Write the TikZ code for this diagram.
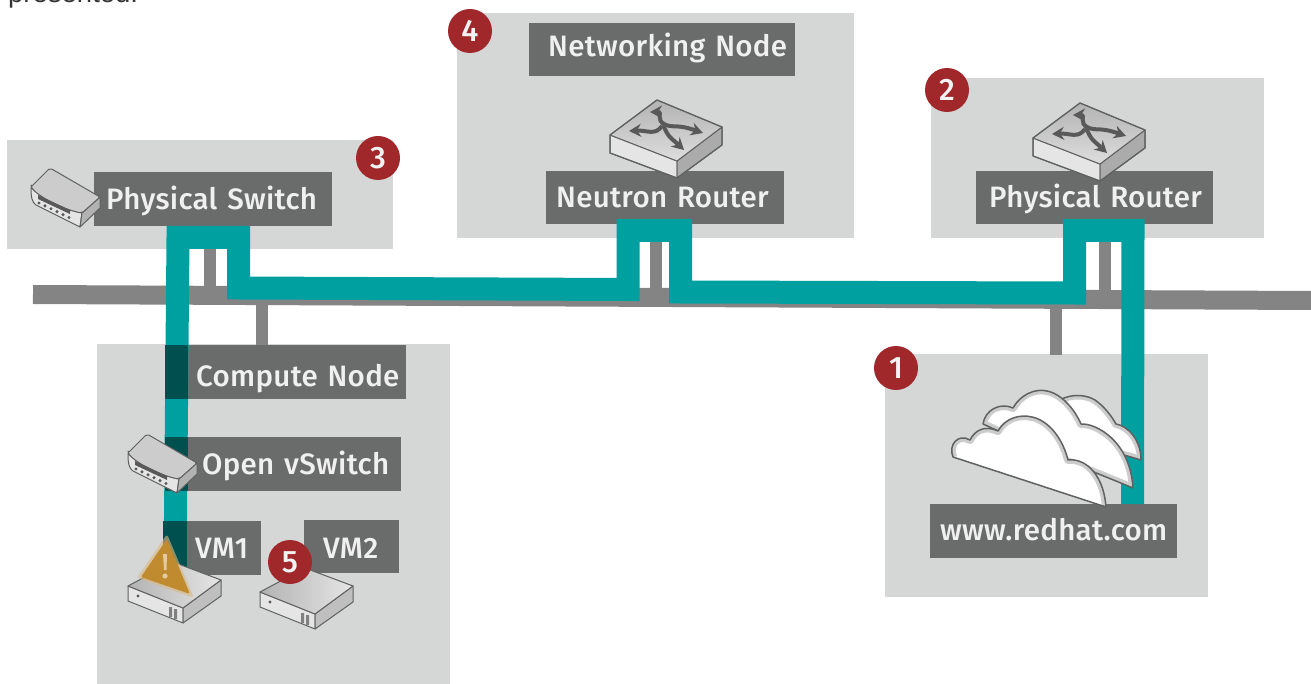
\documentclass[tikz,border=0pt]{standalone}
\usepackage{fontspec}
\usetikzlibrary{arrows.meta}
\setmainfont{Liberation Sans}
\newfontfamily\labfont{Fira Sans Medium}[LetterSpace=1.0]
\definecolor{boxgray}{HTML}{D5D7D6}
\definecolor{labgray}{HTML}{6A6C6B}
\definecolor{busgray}{HTML}{848484}
\definecolor{teal1}{HTML}{00A0A1}
\definecolor{teal2}{HTML}{00504F}
\definecolor{badge}{HTML}{A0282B}
\definecolor{edge}{HTML}{5F6162}
\definecolor{warn}{HTML}{C08A2E}
\tikzset{
  area/.style={fill=boxgray,draw=none},
  lab/.style={fill=labgray,draw=none,inner sep=0pt,text=white!94!black,text height=24pt,text depth=4pt,align=left,anchor=north west,font=\labfont\fontsize{29.5}{30}\selectfont},
  busline/.style={draw=busgray,line width=19pt},
  stub/.style={draw=busgray,line width=12pt},
  flow/.style={draw=teal1,line width=23pt,miter limit=10},
  numdot/.style={circle,fill=badge,text=white!95!black,minimum size=44pt,inner sep=0pt,font=\labfont\fontsize{31}{32}\selectfont},
  icon/.style={draw=edge,line width=1pt,line join=round},
  routericon/.pic={
    \fill[icon,fill=white!90!black] (-47,35) -- (20,61) -- (20,78) -- (-47,53) -- cycle;
    \fill[icon,fill=black!33] (20,61) -- (65,27) -- (65,45) -- (20,78) -- cycle;
    \shade[icon,top color=black!30,bottom color=black!13] (-47,35) -- (0,0) -- (65,27) -- (20,61) -- cycle;
    \draw[icon,fill=none,line width=1.2pt] (-47,35) -- (0,0) -- (65,27) -- (65,45) -- (20,78) -- (-47,53) -- cycle;
    \draw[draw=black!65,line width=4pt,-{Stealth[length=12pt,width=13pt]}] (9,25) .. controls (-3,20) and (7,12) .. (-7,12);
    \draw[draw=black!65,line width=4pt,-{Stealth[length=12pt,width=13pt]}] (6,25) .. controls (12,38) and (12,36) .. (27,50);
    \draw[draw=black!65,line width=4pt,-{Stealth[length=12pt,width=13pt]}] (5,26) .. controls (-2,36) and (-10,30) .. (-28,31);
    \draw[draw=black!65,line width=4pt,-{Stealth[length=12pt,width=13pt]}] (9,25) .. controls (18,28) and (20,24) .. (46,33);
  },
  switchicon/.pic={
    \fill[icon,fill=white!90!black] (-19,19) .. controls (-10,30) and (15,42) .. (32,45) -- (30,59) -- (-14,37) .. controls (-18,34) and (-19,30) .. (-19,19) -- cycle;
    \fill[icon,fill=black!30] (32,45) -- (50,29) -- (50,40) -- (30,59) -- cycle;
    \fill[icon,rounded corners=2pt,fill=black!20] (-19,19) -- (0,0) -- (50,29) -- (32,45) .. controls (15,42) and (-10,30) .. (-19,19) -- cycle;
    \fill[black!65] (-12,27) -- (20,42) -- (20,46) -- (-12,31) -- cycle;
    \foreach \i in {0,1,2,3,4,5} {\fill[black!65] (-11+\i*6,35+\i*2.9) circle (1.7pt);}
  },
  servericon/.pic={
    \fill[icon,fill=white!90!black] (0,0) -- (55,22) -- (55,37) -- (0,15) -- cycle;
    \fill[icon,fill=black!25] (55,22) -- (93,-6) -- (93,10) -- (55,37) -- cycle;
    \shade[icon,left color=black!30,right color=black!10] (0,0) -- (45,-24) -- (93,-6) -- (55,22) -- cycle;
    \fill[black!65] (10,10) circle (1.6pt);
    \fill[black!50] (41,21) rectangle (44,31) (46,23) rectangle (49,33);
  },
}
\newcommand{\cloudF}{(953,457) .. controls (948,445) and (958,433) .. (970,440) .. controls (975,430) and (985,425) .. (998,431) .. controls (1005,418) and (1020,414) .. (1032,417) .. controls (1050,421) and (1063,440) .. (1068,460) .. controls (1082,458) and (1103,470) .. (1106,507) -- cycle}
\newcommand{\cloudM}{(983,424) .. controls (985,410) and (1000,402) .. (1013,408) .. controls (1020,395) and (1035,388) .. (1047,391) .. controls (1062,394) and (1075,410) .. (1081,424) .. controls (1095,423) and (1130,440) .. (1133,488) -- (1040,450) -- cycle}
\newcommand{\cloudR}{(1060,400) .. controls (1070,394) and (1085,394) .. (1095,400) .. controls (1105,407) and (1112,417) .. (1116,424) .. controls (1128,426) and (1141,440) .. (1141,460) -- (1090,445) -- cycle}
\newcommand{\lab}[8]{\node[lab,minimum height=#5pt-#3pt,text width=#4pt-#2pt] (#1) at (#2,#3) {\hspace*{#6pt}\raisebox{#8pt}[0pt][0pt]{#7}};}
\begin{document}
\begin{tikzpicture}[x=1pt,y=-1pt,>=Stealth]
\useasboundingbox (0,0) rectangle (1311,684);
\clip (0,0) rectangle (1311,684);
\fill[white] (0,0) rectangle (1311,684);
\node[anchor=base west,inner sep=0pt,text=black!80,font=\fontsize{27.5}{28}\selectfont] (caption) at (8,3) {presented.};
% areas
\fill[area] (7,140) rectangle (393,249);
\fill[area] (457,13) rectangle (854,238);
\fill[area] (931,78) rectangle (1264,238);
\fill[area] (97,344) rectangle (450,684);
\fill[area] (885,354) rectangle (1208,597);
% bus
\coordinate (busL) at (33,294.5);
\coordinate (busR) at (1311,300.5);
\draw[busline] (busL) -- (busR);
\coordinate (s1a) at (210,240); \coordinate (s1b) at (210,292);
\coordinate (s2a) at (262,300); \coordinate (s2b) at (262,346);
\coordinate (s3a) at (655.5,235); \coordinate (s3b) at (655.5,295);
\coordinate (s4a) at (1105,235); \coordinate (s4b) at (1105,295);
\coordinate (s5a) at (1056,300); \coordinate (s5b) at (1056,355);
\draw[stub] (s1a) -- (s1b);
\draw[stub] (s2a) -- (s2b);
\draw[stub] (s3a) -- (s3b);
\draw[stub] (s4a) -- (s4b);
\draw[stub] (s5a) -- (s5b);
% labels
\lab{pswitch}{94}{172}{332}{226}{12}{Physical Switch}{0}
\lab{netnode}{529}{23}{795}{76}{19}{Networking Node}{3}
\lab{nrouter}{546}{171}{784}{224}{10}{Neutron Router}{0}
\lab{prouter}{976}{171}{1213}{224}{13}{Physical Router}{0}
\lab{cnode}{165}{345}{406}{399}{31}{Compute Node}{-4}
\lab{ovs}{165}{437}{401}{491}{37}{Open vSwitch}{0}
\lab{vm1}{163}{521}{261}{575}{32}{VM1}{0}
\lab{vm2}{304}{520}{399}{573}{19}{VM2}{-1.5}
\lab{web}{930}{504}{1177}{558}{10}{www.redhat.com}{0.5}
% flow
\coordinate (t0) at (175,575);
\coordinate (t1) at (178,237.5);
\coordinate (t2) at (238.5,237.5);
\coordinate (t3) at (238.5,288);
\coordinate (t4) at (628,289.5);
\coordinate (t5) at (628,230.5);
\coordinate (t6) at (680.5,230.5);
\coordinate (t7) at (680.5,292);
\coordinate (t8) at (1074.5,293);
\coordinate (t9) at (1074.5,230.5);
\coordinate (t10) at (1133,230.5);
\coordinate (t11) at (1132.5,504);
\draw[flow] (t0) -- (t1) -- (t2) -- (t3) -- (t4) -- (t5) -- (t6) -- (t7) -- (t8) -- (t9) -- (t10) -- (t11);
% darker overlaps
\fill[teal2] (165,345) rectangle (188,399);
\fill[teal2] (164.5,437) rectangle (187.5,491);
\fill[teal2] (163,521) rectangle (187,575);
% icons
\pic at (657,100) {routericon};
\pic at (1080,103) {routericon};
\pic at (50,168) {switchicon};
\pic at (147,434) {switchicon};
\pic at (128,586) {servericon};
\pic at (260,592) {servericon};
% warning
\fill[warn!60!white,opacity=.6,rounded corners=3pt] (167,534) -- (137,578) -- (194,598) -- cycle;
\fill[warn,rounded corners=2pt] (167,539) -- (141,577) -- (190,594) -- cycle;
\fill[warn!45!white] (163,554) -- (167,554) -- (166.5,570) -- (164,570) -- cycle;
\fill[warn!45!white] (165,576) circle (2.6pt);
% clouds
\begin{scope}[line join=round]
\fill[white] \cloudR;
\begin{scope}\clip \cloudR; \draw[black!20,line width=8pt] \cloudR; \end{scope}
\draw[edge,line width=1.5pt] \cloudR;
\fill[white] \cloudM;
\begin{scope}\clip \cloudM; \draw[black!20,line width=8pt] \cloudM; \end{scope}
\draw[edge,line width=1.5pt] \cloudM;
\fill[white] \cloudF;
\begin{scope}\clip \cloudF; \draw[black!20,line width=8pt] (953,457) .. controls (948,445) and (958,433) .. (970,440) .. controls (975,430) and (985,425) .. (998,431) .. controls (1005,418) and (1020,414) .. (1032,417) .. controls (1050,421) and (1063,440) .. (1068,460) .. controls (1082,458) and (1103,470) .. (1106,507); \end{scope}
\draw[edge,line width=1.5pt] \cloudF;
\end{scope}
% badges
\node[numdot] (n1) at (896,368) {1};
\node[numdot] (n2) at (947,90) {2};
\node[numdot] (n3) at (378,158) {3};
\node[numdot] (n4) at (470,31) {4};
\node[numdot] (n5) at (290,562) {5};
\end{tikzpicture}
\end{document}
